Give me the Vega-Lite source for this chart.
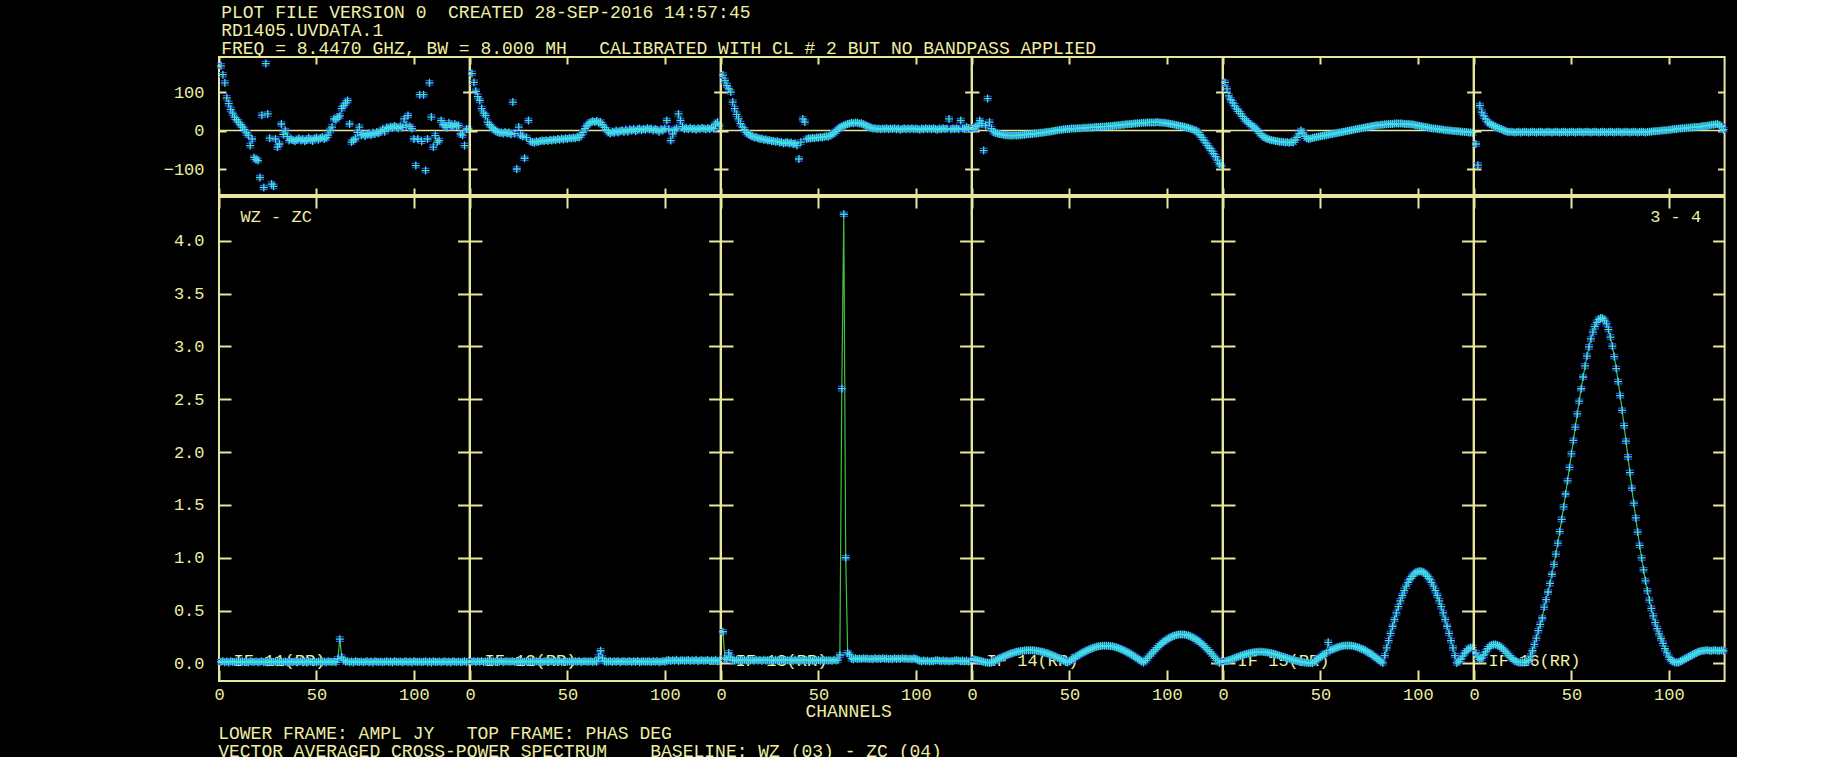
{
  "$schema": "https://vega.github.io/schema/vega-lite/v6.json",
  "background": "#000000",
  "padding": {"left": 163, "top": 3, "right": 5, "bottom": 0},
  "config": {
    "view": {"stroke": "#e6e69c", "strokeWidth": 2},
    "axis": {
      "domain": false, "ticks": false, "tickSize": 0,
      "gridColor": "#e6e69c", "gridOpacity": 1, "gridWidth": 2,
      "labelColor": "#eeeea4", "labelFont": "Liberation Mono", "labelFontSize": 17,
      "labelFlush": false, "labelOverlap": false
    },
    "title": {"font": "Liberation Mono", "fontSize": 18, "fontWeight": "normal", "color": "#eeeea4"}
  },
  "datasets": {
    "spec": [
      {"f":11,"t":"IF 11(RR)","u":"WZ - ZC","v":""},
      {"f":12,"t":"IF 12(RR)","u":"","v":""},
      {"f":13,"t":"IF 13(RR)","u":"","v":""},
      {"f":14,"t":"IF 14(RR)","u":"","v":""},
      {"f":15,"t":"IF 15(RR)","u":"","v":""},
      {"f":16,"t":"IF 16(RR)","u":"","v":"3 - 4"},
      {"f":11,"c":1,"a":0.015,"p":168},{"f":11,"c":2,"a":0.02,"p":145},{"f":11,"c":3,"a":0.012,"p":124},{"f":11,"c":4,"a":0.018,"p":85},{"f":11,"c":5,"a":0.01,"p":70},{"f":11,"c":6,"a":0.022,"p":55},{"f":11,"c":7,"a":0.016,"p":45},{"f":11,"c":8,"a":0.013,"p":35},{"f":11,"c":9,"a":0.019,"p":28},{"f":11,"c":10,"a":0.011,"p":22},
      {"f":11,"c":11,"a":0.015,"p":15},{"f":11,"c":12,"a":0.02,"p":9},{"f":11,"c":13,"a":0.012,"p":3},{"f":11,"c":14,"a":0.018,"p":-6},{"f":11,"c":15,"a":0.01,"p":-12},{"f":11,"c":16,"a":0.022,"p":-39},{"f":11,"c":17,"a":0.016,"p":-22},{"f":11,"c":18,"a":0.013,"p":-70},{"f":11,"c":19,"a":0.019,"p":-75},{"f":11,"c":20,"a":0.011,"p":-78},
      {"f":11,"c":21,"a":0.015,"p":-122},{"f":11,"c":22,"a":0.02,"p":40},{"f":11,"c":23,"a":0.012,"p":-148},{"f":11,"c":24,"a":0.018,"p":174},{"f":11,"c":25,"a":0.01,"p":43},{"f":11,"c":26,"a":0.022,"p":-20},{"f":11,"c":27,"a":0.016,"p":-139},{"f":11,"c":28,"a":0.013,"p":-145},{"f":11,"c":29,"a":0.019,"p":-22},{"f":11,"c":30,"a":0.011,"p":-43},
      {"f":11,"c":31,"a":0.015,"p":-35},{"f":11,"c":32,"a":0.02,"p":17},{"f":11,"c":33,"a":0.012,"p":-10},{"f":11,"c":34,"a":0.018,"p":0},{"f":11,"c":35,"a":0.01,"p":-15},{"f":11,"c":36,"a":0.022,"p":-26},{"f":11,"c":37,"a":0.016,"p":-22},{"f":11,"c":38,"a":0.013,"p":-25},{"f":11,"c":39,"a":0.019,"p":-28},{"f":11,"c":40,"a":0.011,"p":-24},
      {"f":11,"c":41,"a":0.015,"p":-20},{"f":11,"c":42,"a":0.02,"p":-26},{"f":11,"c":43,"a":0.012,"p":-22},{"f":11,"c":44,"a":0.018,"p":-28},{"f":11,"c":45,"a":0.01,"p":-25},{"f":11,"c":46,"a":0.022,"p":-19},{"f":11,"c":47,"a":0.016,"p":-23},{"f":11,"c":48,"a":0.013,"p":-27},{"f":11,"c":49,"a":0.019,"p":-21},{"f":11,"c":50,"a":0.011,"p":-18},
      {"f":11,"c":51,"a":0.015,"p":-24},{"f":11,"c":52,"a":0.02,"p":-20},{"f":11,"c":53,"a":0.012,"p":-17},{"f":11,"c":54,"a":0.018,"p":-22},{"f":11,"c":55,"a":0.01,"p":-19},{"f":11,"c":56,"a":0.022,"p":-12},{"f":11,"c":57,"a":0.016,"p":0},{"f":11,"c":58,"a":0.013,"p":9},{"f":11,"c":59,"a":0.019,"p":30},{"f":11,"c":60,"a":0.011,"p":28},
      {"f":11,"c":61,"a":0.045,"p":35},{"f":11,"c":62,"a":0.23,"p":38},{"f":11,"c":63,"a":0.06,"p":57},{"f":11,"c":64,"a":0.03,"p":65},{"f":11,"c":65,"a":0.015,"p":72},{"f":11,"c":66,"a":0.02,"p":78},{"f":11,"c":67,"a":0.012,"p":17},{"f":11,"c":68,"a":0.018,"p":-30},{"f":11,"c":69,"a":0.01,"p":-25},{"f":11,"c":70,"a":0.022,"p":-22},
      {"f":11,"c":71,"a":0.016,"p":-5},{"f":11,"c":72,"a":0.013,"p":9},{"f":11,"c":73,"a":0.019,"p":-12},{"f":11,"c":74,"a":0.011,"p":-9},{"f":11,"c":75,"a":0.015,"p":-14},{"f":11,"c":76,"a":0.02,"p":-10},{"f":11,"c":77,"a":0.012,"p":-8},{"f":11,"c":78,"a":0.018,"p":-12},{"f":11,"c":79,"a":0.01,"p":-6},{"f":11,"c":80,"a":0.022,"p":-9},
      {"f":11,"c":81,"a":0.016,"p":-4},{"f":11,"c":82,"a":0.013,"p":-7},{"f":11,"c":83,"a":0.019,"p":-2},{"f":11,"c":84,"a":0.011,"p":3},{"f":11,"c":85,"a":0.015,"p":-3},{"f":11,"c":86,"a":0.02,"p":8},{"f":11,"c":87,"a":0.012,"p":5},{"f":11,"c":88,"a":0.018,"p":10},{"f":11,"c":89,"a":0.01,"p":7},{"f":11,"c":90,"a":0.022,"p":12},
      {"f":11,"c":91,"a":0.016,"p":9},{"f":11,"c":92,"a":0.013,"p":6},{"f":11,"c":93,"a":0.019,"p":11},{"f":11,"c":94,"a":0.011,"p":8},{"f":11,"c":95,"a":0.015,"p":30},{"f":11,"c":96,"a":0.02,"p":14},{"f":11,"c":97,"a":0.012,"p":39},{"f":11,"c":98,"a":0.018,"p":10},{"f":11,"c":99,"a":0.01,"p":5},{"f":11,"c":100,"a":0.022,"p":-22},
      {"f":11,"c":101,"a":0.016,"p":-91},{"f":11,"c":102,"a":0.013,"p":-22},{"f":11,"c":103,"a":0.019,"p":93},{"f":11,"c":104,"a":0.011,"p":-28},{"f":11,"c":105,"a":0.015,"p":93},{"f":11,"c":106,"a":0.02,"p":-104},{"f":11,"c":107,"a":0.012,"p":-22},{"f":11,"c":108,"a":0.018,"p":124},{"f":11,"c":109,"a":0.01,"p":35},{"f":11,"c":110,"a":0.022,"p":-43},
      {"f":11,"c":111,"a":0.016,"p":-13},{"f":11,"c":112,"a":0.013,"p":-30},{"f":11,"c":113,"a":0.019,"p":-26},{"f":11,"c":114,"a":0.011,"p":26},{"f":11,"c":115,"a":0.015,"p":15},{"f":11,"c":116,"a":0.02,"p":13},{"f":11,"c":117,"a":0.012,"p":8},{"f":11,"c":118,"a":0.018,"p":20},{"f":11,"c":119,"a":0.01,"p":13},{"f":11,"c":120,"a":0.022,"p":10},
      {"f":11,"c":121,"a":0.016,"p":17},{"f":11,"c":122,"a":0.013,"p":12},{"f":11,"c":123,"a":0.019,"p":13},{"f":11,"c":124,"a":0.011,"p":-9},{"f":11,"c":125,"a":0.015,"p":-12},{"f":11,"c":126,"a":0.02,"p":-39},{"f":11,"c":127,"a":0.012,"p":4},{"f":11,"c":128,"a":0.018,"p":4},

      {"f":12,"c":1,"a":0.018,"p":148},{"f":12,"c":2,"a":0.022,"p":125},{"f":12,"c":3,"a":0.014,"p":102},{"f":12,"c":4,"a":0.02,"p":88},{"f":12,"c":5,"a":0.016,"p":78},{"f":12,"c":6,"a":0.024,"p":57},{"f":12,"c":7,"a":0.012,"p":45},{"f":12,"c":8,"a":0.019,"p":39},{"f":12,"c":9,"a":0.021,"p":22},{"f":12,"c":10,"a":0.015,"p":15},
      {"f":12,"c":11,"a":0.018,"p":9},{"f":12,"c":12,"a":0.022,"p":4},{"f":12,"c":13,"a":0.014,"p":0},{"f":12,"c":14,"a":0.02,"p":-3},{"f":12,"c":15,"a":0.016,"p":-6},{"f":12,"c":16,"a":0.024,"p":-5},{"f":12,"c":17,"a":0.012,"p":-8},{"f":12,"c":18,"a":0.019,"p":-4},{"f":12,"c":19,"a":0.021,"p":-7},{"f":12,"c":20,"a":0.015,"p":-5},
      {"f":12,"c":21,"a":0.018,"p":-10},{"f":12,"c":22,"a":0.022,"p":74},{"f":12,"c":23,"a":0.014,"p":-8},{"f":12,"c":24,"a":0.02,"p":-100},{"f":12,"c":25,"a":0.016,"p":9},{"f":12,"c":26,"a":0.024,"p":-12},{"f":12,"c":27,"a":0.012,"p":-15},{"f":12,"c":28,"a":0.019,"p":-72},{"f":12,"c":29,"a":0.021,"p":-18},{"f":12,"c":30,"a":0.015,"p":26},
      {"f":12,"c":31,"a":0.018,"p":-28},{"f":12,"c":32,"a":0.022,"p":-30},{"f":12,"c":33,"a":0.014,"p":-32},{"f":12,"c":34,"a":0.02,"p":-28},{"f":12,"c":35,"a":0.016,"p":-30},{"f":12,"c":36,"a":0.024,"p":-27},{"f":12,"c":37,"a":0.012,"p":-26},{"f":12,"c":38,"a":0.019,"p":-28},{"f":12,"c":39,"a":0.021,"p":-25},{"f":12,"c":40,"a":0.015,"p":-27},
      {"f":12,"c":41,"a":0.018,"p":-24},{"f":12,"c":42,"a":0.022,"p":-26},{"f":12,"c":43,"a":0.014,"p":-23},{"f":12,"c":44,"a":0.02,"p":-25},{"f":12,"c":45,"a":0.016,"p":-22},{"f":12,"c":46,"a":0.024,"p":-24},{"f":12,"c":47,"a":0.012,"p":-21},{"f":12,"c":48,"a":0.019,"p":-23},{"f":12,"c":49,"a":0.021,"p":-20},{"f":12,"c":50,"a":0.015,"p":-22},
      {"f":12,"c":51,"a":0.018,"p":-19},{"f":12,"c":52,"a":0.022,"p":-21},{"f":12,"c":53,"a":0.014,"p":-18},{"f":12,"c":54,"a":0.02,"p":-20},{"f":12,"c":55,"a":0.016,"p":-17},{"f":12,"c":56,"a":0.024,"p":-18},{"f":12,"c":57,"a":0.012,"p":-12},{"f":12,"c":58,"a":0.019,"p":-5},{"f":12,"c":59,"a":0.021,"p":5},{"f":12,"c":60,"a":0.015,"p":13},
      {"f":12,"c":61,"a":0.018,"p":18},{"f":12,"c":62,"a":0.022,"p":22},{"f":12,"c":63,"a":0.014,"p":24},{"f":12,"c":64,"a":0.02,"p":22},{"f":12,"c":65,"a":0.016,"p":25},{"f":12,"c":66,"a":0.06,"p":20},{"f":12,"c":67,"a":0.12,"p":22},{"f":12,"c":68,"a":0.05,"p":15},{"f":12,"c":69,"a":0.021,"p":8},{"f":12,"c":70,"a":0.015,"p":2},
      {"f":12,"c":71,"a":0.018,"p":-4},{"f":12,"c":72,"a":0.022,"p":-8},{"f":12,"c":73,"a":0.014,"p":-3},{"f":12,"c":74,"a":0.02,"p":-6},{"f":12,"c":75,"a":0.016,"p":0},{"f":12,"c":76,"a":0.024,"p":-5},{"f":12,"c":77,"a":0.012,"p":-2},{"f":12,"c":78,"a":0.019,"p":1},{"f":12,"c":79,"a":0.021,"p":-4},{"f":12,"c":80,"a":0.015,"p":2},
      {"f":12,"c":81,"a":0.018,"p":-3},{"f":12,"c":82,"a":0.022,"p":3},{"f":12,"c":83,"a":0.014,"p":0},{"f":12,"c":84,"a":0.02,"p":4},{"f":12,"c":85,"a":0.016,"p":-2},{"f":12,"c":86,"a":0.024,"p":3},{"f":12,"c":87,"a":0.012,"p":5},{"f":12,"c":88,"a":0.019,"p":1},{"f":12,"c":89,"a":0.021,"p":4},{"f":12,"c":90,"a":0.015,"p":2},
      {"f":12,"c":91,"a":0.018,"p":6},{"f":12,"c":92,"a":0.022,"p":3},{"f":12,"c":93,"a":0.014,"p":5},{"f":12,"c":94,"a":0.02,"p":0},{"f":12,"c":95,"a":0.016,"p":4},{"f":12,"c":96,"a":0.024,"p":2},{"f":12,"c":97,"a":0.012,"p":-3},{"f":12,"c":98,"a":0.019,"p":3},{"f":12,"c":99,"a":0.021,"p":1},{"f":12,"c":100,"a":0.015,"p":5},
      {"f":12,"c":101,"a":0.028,"p":26},{"f":12,"c":102,"a":0.032,"p":4},{"f":12,"c":103,"a":0.024,"p":-26},{"f":12,"c":104,"a":0.03,"p":-9},{"f":12,"c":105,"a":0.026,"p":2},{"f":12,"c":106,"a":0.034,"p":6},{"f":12,"c":107,"a":0.022,"p":43},{"f":12,"c":108,"a":0.029,"p":26},{"f":12,"c":109,"a":0.031,"p":10},{"f":12,"c":110,"a":0.025,"p":4},
      {"f":12,"c":111,"a":0.028,"p":6},{"f":12,"c":112,"a":0.032,"p":3},{"f":12,"c":113,"a":0.024,"p":7},{"f":12,"c":114,"a":0.03,"p":4},{"f":12,"c":115,"a":0.026,"p":5},{"f":12,"c":116,"a":0.034,"p":2},{"f":12,"c":117,"a":0.022,"p":6},{"f":12,"c":118,"a":0.029,"p":4},{"f":12,"c":119,"a":0.031,"p":7},{"f":12,"c":120,"a":0.025,"p":5},
      {"f":12,"c":121,"a":0.028,"p":3},{"f":12,"c":122,"a":0.032,"p":6},{"f":12,"c":123,"a":0.024,"p":4},{"f":12,"c":124,"a":0.03,"p":8},{"f":12,"c":125,"a":0.026,"p":5},{"f":12,"c":126,"a":0.034,"p":17},{"f":12,"c":127,"a":0.022,"p":22},{"f":12,"c":128,"a":0.029,"p":12},

      {"f":13,"c":1,"a":0.3,"p":144},{"f":13,"c":2,"a":0.05,"p":130},{"f":13,"c":3,"a":0.04,"p":117},{"f":13,"c":4,"a":0.1,"p":108},{"f":13,"c":5,"a":0.06,"p":100},{"f":13,"c":6,"a":0.03,"p":74},{"f":13,"c":7,"a":0.025,"p":57},{"f":13,"c":8,"a":0.035,"p":42},{"f":13,"c":9,"a":0.028,"p":30},{"f":13,"c":10,"a":0.032,"p":18},
      {"f":13,"c":11,"a":0.026,"p":9},{"f":13,"c":12,"a":0.034,"p":2},{"f":13,"c":13,"a":0.029,"p":-5},{"f":13,"c":14,"a":0.031,"p":-9},{"f":13,"c":15,"a":0.027,"p":-12},{"f":13,"c":16,"a":0.03,"p":-15},{"f":13,"c":17,"a":0.025,"p":-18},{"f":13,"c":18,"a":0.035,"p":-17},{"f":13,"c":19,"a":0.028,"p":-20},{"f":13,"c":20,"a":0.032,"p":-22},
      {"f":13,"c":21,"a":0.026,"p":-21},{"f":13,"c":22,"a":0.034,"p":-24},{"f":13,"c":23,"a":0.029,"p":-23},{"f":13,"c":24,"a":0.031,"p":-26},{"f":13,"c":25,"a":0.027,"p":-25},{"f":13,"c":26,"a":0.03,"p":-28},{"f":13,"c":27,"a":0.025,"p":-27},{"f":13,"c":28,"a":0.035,"p":-29},{"f":13,"c":29,"a":0.028,"p":-28},{"f":13,"c":30,"a":0.032,"p":-31},
      {"f":13,"c":31,"a":0.026,"p":-30},{"f":13,"c":32,"a":0.034,"p":-33},{"f":13,"c":33,"a":0.029,"p":-32},{"f":13,"c":34,"a":0.031,"p":-30},{"f":13,"c":35,"a":0.027,"p":-34},{"f":13,"c":36,"a":0.03,"p":-31},{"f":13,"c":37,"a":0.025,"p":-35},{"f":13,"c":38,"a":0.035,"p":-33},{"f":13,"c":39,"a":0.028,"p":-39},{"f":13,"c":40,"a":0.032,"p":-74},
      {"f":13,"c":41,"a":0.026,"p":-30},{"f":13,"c":42,"a":0.034,"p":30},{"f":13,"c":43,"a":0.029,"p":22},{"f":13,"c":44,"a":0.031,"p":-22},{"f":13,"c":45,"a":0.027,"p":-20},{"f":13,"c":46,"a":0.03,"p":-21},{"f":13,"c":47,"a":0.025,"p":-19},{"f":13,"c":48,"a":0.035,"p":-20},{"f":13,"c":49,"a":0.028,"p":-18},{"f":13,"c":50,"a":0.032,"p":-19},
      {"f":13,"c":51,"a":0.026,"p":-17},{"f":13,"c":52,"a":0.034,"p":-18},{"f":13,"c":53,"a":0.029,"p":-16},{"f":13,"c":54,"a":0.031,"p":-15},{"f":13,"c":55,"a":0.027,"p":-16},{"f":13,"c":56,"a":0.03,"p":-13},{"f":13,"c":57,"a":0.025,"p":-10},{"f":13,"c":58,"a":0.035,"p":-6},{"f":13,"c":59,"a":0.028,"p":-2},{"f":13,"c":60,"a":0.032,"p":3},
      {"f":13,"c":61,"a":0.08,"p":7},{"f":13,"c":62,"a":2.6,"p":10},{"f":13,"c":63,"a":4.25,"p":13},{"f":13,"c":64,"a":1.0,"p":15},{"f":13,"c":65,"a":0.1,"p":17},{"f":13,"c":66,"a":0.085,"p":18},{"f":13,"c":67,"a":0.045,"p":20},{"f":13,"c":68,"a":0.04,"p":19},{"f":13,"c":69,"a":0.05,"p":21},{"f":13,"c":70,"a":0.043,"p":20},
      {"f":13,"c":71,"a":0.047,"p":18},{"f":13,"c":72,"a":0.041,"p":19},{"f":13,"c":73,"a":0.049,"p":16},{"f":13,"c":74,"a":0.044,"p":14},{"f":13,"c":75,"a":0.046,"p":12},{"f":13,"c":76,"a":0.042,"p":9},{"f":13,"c":77,"a":0.045,"p":7},{"f":13,"c":78,"a":0.04,"p":5},{"f":13,"c":79,"a":0.05,"p":6},{"f":13,"c":80,"a":0.043,"p":4},
      {"f":13,"c":81,"a":0.047,"p":5},{"f":13,"c":82,"a":0.041,"p":3},{"f":13,"c":83,"a":0.049,"p":5},{"f":13,"c":84,"a":0.044,"p":4},{"f":13,"c":85,"a":0.046,"p":6},{"f":13,"c":86,"a":0.042,"p":3},{"f":13,"c":87,"a":0.045,"p":5},{"f":13,"c":88,"a":0.04,"p":4},{"f":13,"c":89,"a":0.05,"p":6},{"f":13,"c":90,"a":0.043,"p":3},
      {"f":13,"c":91,"a":0.047,"p":5},{"f":13,"c":92,"a":0.041,"p":2},{"f":13,"c":93,"a":0.049,"p":4},{"f":13,"c":94,"a":0.044,"p":6},{"f":13,"c":95,"a":0.046,"p":3},{"f":13,"c":96,"a":0.042,"p":5},{"f":13,"c":97,"a":0.045,"p":4},{"f":13,"c":98,"a":0.04,"p":6},{"f":13,"c":99,"a":0.05,"p":3},{"f":13,"c":100,"a":0.043,"p":5},
      {"f":13,"c":101,"a":0.03,"p":4},{"f":13,"c":102,"a":0.025,"p":2},{"f":13,"c":103,"a":0.02,"p":5},{"f":13,"c":104,"a":0.028,"p":3},{"f":13,"c":105,"a":0.022,"p":6},{"f":13,"c":106,"a":0.026,"p":4},{"f":13,"c":107,"a":0.018,"p":5},{"f":13,"c":108,"a":0.024,"p":3},{"f":13,"c":109,"a":0.021,"p":6},{"f":13,"c":110,"a":0.027,"p":4},
      {"f":13,"c":111,"a":0.03,"p":2},{"f":13,"c":112,"a":0.025,"p":5},{"f":13,"c":113,"a":0.02,"p":3},{"f":13,"c":114,"a":0.028,"p":6},{"f":13,"c":115,"a":0.022,"p":4},{"f":13,"c":116,"a":0.026,"p":5},{"f":13,"c":117,"a":0.018,"p":30},{"f":13,"c":118,"a":0.024,"p":3},{"f":13,"c":119,"a":0.021,"p":5},{"f":13,"c":120,"a":0.027,"p":4},
      {"f":13,"c":121,"a":0.03,"p":6},{"f":13,"c":122,"a":0.025,"p":3},{"f":13,"c":123,"a":0.02,"p":26},{"f":13,"c":124,"a":0.028,"p":5},{"f":13,"c":125,"a":0.022,"p":4},{"f":13,"c":126,"a":0.026,"p":9},{"f":13,"c":127,"a":0.018,"p":6},{"f":13,"c":128,"a":0.024,"p":4},

      {"f":14,"c":1,"a":0.04,"p":5},{"f":14,"c":2,"a":0.035,"p":10},{"f":14,"c":3,"a":0.03,"p":13},{"f":14,"c":4,"a":0.025,"p":26},{"f":14,"c":5,"a":0.02,"p":18},{"f":14,"c":6,"a":0.015,"p":-52},{"f":14,"c":7,"a":0.01,"p":13},{"f":14,"c":8,"a":0.008,"p":83},{"f":14,"c":9,"a":0.005,"p":22},{"f":14,"c":10,"a":0.01,"p":5},
      {"f":14,"c":11,"a":0.019,"p":-3},{"f":14,"c":12,"a":0.028,"p":-6},{"f":14,"c":13,"a":0.037,"p":-8},{"f":14,"c":14,"a":0.046,"p":-9},{"f":14,"c":15,"a":0.055,"p":-10},{"f":14,"c":16,"a":0.063,"p":-11},{"f":14,"c":17,"a":0.071,"p":-12},{"f":14,"c":18,"a":0.079,"p":-12},{"f":14,"c":19,"a":0.086,"p":-13},{"f":14,"c":20,"a":0.093,"p":-13},
      {"f":14,"c":21,"a":0.099,"p":-13},{"f":14,"c":22,"a":0.105,"p":-12},{"f":14,"c":23,"a":0.11,"p":-13},{"f":14,"c":24,"a":0.114,"p":-12},{"f":14,"c":25,"a":0.118,"p":-12},{"f":14,"c":26,"a":0.121,"p":-11},{"f":14,"c":27,"a":0.123,"p":-11},{"f":14,"c":28,"a":0.124,"p":-10},{"f":14,"c":29,"a":0.125,"p":-10},{"f":14,"c":30,"a":0.125,"p":-9},
      {"f":14,"c":31,"a":0.124,"p":-9},{"f":14,"c":32,"a":0.123,"p":-8},{"f":14,"c":33,"a":0.121,"p":-8},{"f":14,"c":34,"a":0.118,"p":-7},{"f":14,"c":35,"a":0.114,"p":-6},{"f":14,"c":36,"a":0.11,"p":-6},{"f":14,"c":37,"a":0.105,"p":-5},{"f":14,"c":38,"a":0.099,"p":-4},{"f":14,"c":39,"a":0.093,"p":-3},{"f":14,"c":40,"a":0.086,"p":-3},
      {"f":14,"c":41,"a":0.079,"p":-2},{"f":14,"c":42,"a":0.071,"p":-1},{"f":14,"c":43,"a":0.063,"p":0},{"f":14,"c":44,"a":0.055,"p":1},{"f":14,"c":45,"a":0.046,"p":2},{"f":14,"c":46,"a":0.037,"p":2},{"f":14,"c":47,"a":0.028,"p":3},{"f":14,"c":48,"a":0.019,"p":3},{"f":14,"c":49,"a":0.01,"p":4},{"f":14,"c":50,"a":0.021,"p":4},
      {"f":14,"c":51,"a":0.034,"p":5},{"f":14,"c":52,"a":0.046,"p":5},{"f":14,"c":53,"a":0.059,"p":5},{"f":14,"c":54,"a":0.071,"p":6},{"f":14,"c":55,"a":0.082,"p":6},{"f":14,"c":56,"a":0.093,"p":6},{"f":14,"c":57,"a":0.104,"p":7},{"f":14,"c":58,"a":0.114,"p":7},{"f":14,"c":59,"a":0.123,"p":7},{"f":14,"c":60,"a":0.132,"p":8},
      {"f":14,"c":61,"a":0.139,"p":8},{"f":14,"c":62,"a":0.146,"p":8},{"f":14,"c":63,"a":0.153,"p":9},{"f":14,"c":64,"a":0.158,"p":9},{"f":14,"c":65,"a":0.162,"p":9},{"f":14,"c":66,"a":0.165,"p":10},{"f":14,"c":67,"a":0.167,"p":10},{"f":14,"c":68,"a":0.168,"p":10},{"f":14,"c":69,"a":0.168,"p":11},{"f":14,"c":70,"a":0.167,"p":11},
      {"f":14,"c":71,"a":0.165,"p":12},{"f":14,"c":72,"a":0.162,"p":12},{"f":14,"c":73,"a":0.158,"p":13},{"f":14,"c":74,"a":0.153,"p":13},{"f":14,"c":75,"a":0.146,"p":14},{"f":14,"c":76,"a":0.139,"p":14},{"f":14,"c":77,"a":0.132,"p":15},{"f":14,"c":78,"a":0.123,"p":15},{"f":14,"c":79,"a":0.114,"p":16},{"f":14,"c":80,"a":0.104,"p":16},
      {"f":14,"c":81,"a":0.093,"p":17},{"f":14,"c":82,"a":0.082,"p":17},{"f":14,"c":83,"a":0.071,"p":18},{"f":14,"c":84,"a":0.059,"p":18},{"f":14,"c":85,"a":0.046,"p":19},{"f":14,"c":86,"a":0.034,"p":19},{"f":14,"c":87,"a":0.021,"p":20},{"f":14,"c":88,"a":0.008,"p":20},{"f":14,"c":89,"a":0.027,"p":20},{"f":14,"c":90,"a":0.048,"p":21},
      {"f":14,"c":91,"a":0.07,"p":21},{"f":14,"c":92,"a":0.09,"p":21},{"f":14,"c":93,"a":0.111,"p":21},{"f":14,"c":94,"a":0.13,"p":21},{"f":14,"c":95,"a":0.149,"p":22},{"f":14,"c":96,"a":0.167,"p":21},{"f":14,"c":97,"a":0.184,"p":21},{"f":14,"c":98,"a":0.2,"p":20},{"f":14,"c":99,"a":0.214,"p":20},{"f":14,"c":100,"a":0.227,"p":19},
      {"f":14,"c":101,"a":0.239,"p":18},{"f":14,"c":102,"a":0.249,"p":17},{"f":14,"c":103,"a":0.258,"p":16},{"f":14,"c":104,"a":0.265,"p":15},{"f":14,"c":105,"a":0.27,"p":14},{"f":14,"c":106,"a":0.274,"p":13},{"f":14,"c":107,"a":0.275,"p":12},{"f":14,"c":108,"a":0.275,"p":11},{"f":14,"c":109,"a":0.274,"p":10},{"f":14,"c":110,"a":0.27,"p":8},
      {"f":14,"c":111,"a":0.265,"p":7},{"f":14,"c":112,"a":0.258,"p":5},{"f":14,"c":113,"a":0.249,"p":3},{"f":14,"c":114,"a":0.239,"p":1},{"f":14,"c":115,"a":0.227,"p":0},{"f":14,"c":116,"a":0.214,"p":-5},{"f":14,"c":117,"a":0.2,"p":-11},{"f":14,"c":118,"a":0.184,"p":-18},{"f":14,"c":119,"a":0.167,"p":-25},{"f":14,"c":120,"a":0.149,"p":-32},
      {"f":14,"c":121,"a":0.13,"p":-39},{"f":14,"c":122,"a":0.111,"p":-46},{"f":14,"c":123,"a":0.09,"p":-53},{"f":14,"c":124,"a":0.07,"p":-60},{"f":14,"c":125,"a":0.048,"p":-68},{"f":14,"c":126,"a":0.027,"p":-77},{"f":14,"c":127,"a":0.005,"p":-87},{"f":14,"c":128,"a":0.02,"p":-92},

      {"f":15,"c":1,"a":0.02,"p":125},{"f":15,"c":2,"a":0.025,"p":108},{"f":15,"c":3,"a":0.03,"p":90},{"f":15,"c":4,"a":0.037,"p":80},{"f":15,"c":5,"a":0.044,"p":72},{"f":15,"c":6,"a":0.051,"p":64},{"f":15,"c":7,"a":0.058,"p":56},{"f":15,"c":8,"a":0.065,"p":50},{"f":15,"c":9,"a":0.072,"p":44},{"f":15,"c":10,"a":0.078,"p":37},
      {"f":15,"c":11,"a":0.084,"p":30},{"f":15,"c":12,"a":0.09,"p":25},{"f":15,"c":13,"a":0.095,"p":20},{"f":15,"c":14,"a":0.099,"p":16},{"f":15,"c":15,"a":0.103,"p":12},{"f":15,"c":16,"a":0.106,"p":9},{"f":15,"c":17,"a":0.108,"p":4},{"f":15,"c":18,"a":0.11,"p":-2},{"f":15,"c":19,"a":0.11,"p":-8},{"f":15,"c":20,"a":0.11,"p":-13},
      {"f":15,"c":21,"a":0.109,"p":-17},{"f":15,"c":22,"a":0.107,"p":-20},{"f":15,"c":23,"a":0.104,"p":-22},{"f":15,"c":24,"a":0.1,"p":-24},{"f":15,"c":25,"a":0.096,"p":-25},{"f":15,"c":26,"a":0.091,"p":-26},{"f":15,"c":27,"a":0.086,"p":-27},{"f":15,"c":28,"a":0.08,"p":-28},{"f":15,"c":29,"a":0.074,"p":-29},{"f":15,"c":30,"a":0.068,"p":-29},
      {"f":15,"c":31,"a":0.062,"p":-30},{"f":15,"c":32,"a":0.056,"p":-31},{"f":15,"c":33,"a":0.05,"p":-30},{"f":15,"c":34,"a":0.044,"p":-32},{"f":15,"c":35,"a":0.038,"p":-30},{"f":15,"c":36,"a":0.033,"p":-31},{"f":15,"c":37,"a":0.028,"p":-25},{"f":15,"c":38,"a":0.023,"p":-18},{"f":15,"c":39,"a":0.019,"p":-8},{"f":15,"c":40,"a":0.015,"p":0},
      {"f":15,"c":41,"a":0.012,"p":-6},{"f":15,"c":42,"a":0.009,"p":-15},{"f":15,"c":43,"a":0.007,"p":-20},{"f":15,"c":44,"a":0.005,"p":-22},{"f":15,"c":45,"a":0.004,"p":-21},{"f":15,"c":46,"a":0.004,"p":-19},{"f":15,"c":47,"a":0.019,"p":-18},{"f":15,"c":48,"a":0.034,"p":-17},{"f":15,"c":49,"a":0.048,"p":-16},{"f":15,"c":50,"a":0.061,"p":-15},
      {"f":15,"c":51,"a":0.075,"p":-14},{"f":15,"c":52,"a":0.088,"p":-13},{"f":15,"c":53,"a":0.1,"p":-12},{"f":15,"c":54,"a":0.2,"p":-11},{"f":15,"c":55,"a":0.122,"p":-10},{"f":15,"c":56,"a":0.131,"p":-9},{"f":15,"c":57,"a":0.14,"p":-8},{"f":15,"c":58,"a":0.148,"p":-7},{"f":15,"c":59,"a":0.154,"p":-6},{"f":15,"c":60,"a":0.16,"p":-5},
      {"f":15,"c":61,"a":0.164,"p":-4},{"f":15,"c":62,"a":0.168,"p":-3},{"f":15,"c":63,"a":0.169,"p":-2},{"f":15,"c":64,"a":0.17,"p":-1},{"f":15,"c":65,"a":0.169,"p":0},{"f":15,"c":66,"a":0.168,"p":1},{"f":15,"c":67,"a":0.164,"p":2},{"f":15,"c":68,"a":0.16,"p":3},{"f":15,"c":69,"a":0.154,"p":4},{"f":15,"c":70,"a":0.148,"p":5},
      {"f":15,"c":71,"a":0.14,"p":6},{"f":15,"c":72,"a":0.131,"p":7},{"f":15,"c":73,"a":0.122,"p":8},{"f":15,"c":74,"a":0.111,"p":9},{"f":15,"c":75,"a":0.1,"p":10},{"f":15,"c":76,"a":0.088,"p":11},{"f":15,"c":77,"a":0.075,"p":12},{"f":15,"c":78,"a":0.061,"p":13},{"f":15,"c":79,"a":0.048,"p":14},{"f":15,"c":80,"a":0.034,"p":14},
      {"f":15,"c":81,"a":0.019,"p":15},{"f":15,"c":82,"a":0.005,"p":15},{"f":15,"c":83,"a":0.075,"p":16},{"f":15,"c":84,"a":0.147,"p":16},{"f":15,"c":85,"a":0.216,"p":17},{"f":15,"c":86,"a":0.285,"p":17},{"f":15,"c":87,"a":0.352,"p":17},{"f":15,"c":88,"a":0.416,"p":18},{"f":15,"c":89,"a":0.478,"p":18},{"f":15,"c":90,"a":0.537,"p":18},
      {"f":15,"c":91,"a":0.592,"p":18},{"f":15,"c":92,"a":0.643,"p":18},{"f":15,"c":93,"a":0.689,"p":17},{"f":15,"c":94,"a":0.731,"p":17},{"f":15,"c":95,"a":0.768,"p":17},{"f":15,"c":96,"a":0.799,"p":16},{"f":15,"c":97,"a":0.825,"p":16},{"f":15,"c":98,"a":0.846,"p":15},{"f":15,"c":99,"a":0.861,"p":14},{"f":15,"c":100,"a":0.87,"p":13},
      {"f":15,"c":101,"a":0.873,"p":12},{"f":15,"c":102,"a":0.87,"p":11},{"f":15,"c":103,"a":0.861,"p":10},{"f":15,"c":104,"a":0.846,"p":9},{"f":15,"c":105,"a":0.825,"p":8},{"f":15,"c":106,"a":0.799,"p":7},{"f":15,"c":107,"a":0.768,"p":6},{"f":15,"c":108,"a":0.731,"p":5},{"f":15,"c":109,"a":0.689,"p":5},{"f":15,"c":110,"a":0.643,"p":4},
      {"f":15,"c":111,"a":0.592,"p":3},{"f":15,"c":112,"a":0.537,"p":3},{"f":15,"c":113,"a":0.478,"p":2},{"f":15,"c":114,"a":0.416,"p":1},{"f":15,"c":115,"a":0.352,"p":1},{"f":15,"c":116,"a":0.285,"p":0},{"f":15,"c":117,"a":0.216,"p":0},{"f":15,"c":118,"a":0.147,"p":-1},{"f":15,"c":119,"a":0.075,"p":-1},{"f":15,"c":120,"a":0.005,"p":-2},
      {"f":15,"c":121,"a":0.02,"p":-2},{"f":15,"c":122,"a":0.04,"p":-3},{"f":15,"c":123,"a":0.07,"p":-3},{"f":15,"c":124,"a":0.1,"p":-4},{"f":15,"c":125,"a":0.12,"p":-4},{"f":15,"c":126,"a":0.14,"p":-5},{"f":15,"c":127,"a":0.15,"p":-5},{"f":15,"c":128,"a":0.15,"p":-6},

      {"f":16,"c":1,"a":0.1,"p":-35},{"f":16,"c":2,"a":0.06,"p":-90},{"f":16,"c":3,"a":0.04,"p":65},{"f":16,"c":4,"a":0.05,"p":48},{"f":16,"c":5,"a":0.08,"p":38},{"f":16,"c":6,"a":0.11,"p":30},{"f":16,"c":7,"a":0.14,"p":22},{"f":16,"c":8,"a":0.16,"p":18},{"f":16,"c":9,"a":0.175,"p":15},{"f":16,"c":10,"a":0.18,"p":13},
      {"f":16,"c":11,"a":0.18,"p":10},{"f":16,"c":12,"a":0.175,"p":7},{"f":16,"c":13,"a":0.165,"p":5},{"f":16,"c":14,"a":0.15,"p":4},{"f":16,"c":15,"a":0.135,"p":1},{"f":16,"c":16,"a":0.115,"p":-1},{"f":16,"c":17,"a":0.095,"p":-3},{"f":16,"c":18,"a":0.075,"p":-4},{"f":16,"c":19,"a":0.055,"p":-3},{"f":16,"c":20,"a":0.04,"p":-4},
      {"f":16,"c":21,"a":0.025,"p":-5},{"f":16,"c":22,"a":0.015,"p":-4},{"f":16,"c":23,"a":0.01,"p":-3},{"f":16,"c":24,"a":0.008,"p":-5},{"f":16,"c":25,"a":0.01,"p":-4},{"f":16,"c":26,"a":0.01,"p":-3},{"f":16,"c":27,"a":0.015,"p":-4},{"f":16,"c":28,"a":0.03,"p":-5},{"f":16,"c":29,"a":0.07,"p":-4},{"f":16,"c":30,"a":0.12,"p":-3},
      {"f":16,"c":31,"a":0.18,"p":-4},{"f":16,"c":32,"a":0.24,"p":-5},{"f":16,"c":33,"a":0.31,"p":-4},{"f":16,"c":34,"a":0.37,"p":-3},{"f":16,"c":35,"a":0.43,"p":-4},{"f":16,"c":36,"a":0.533,"p":-5},{"f":16,"c":37,"a":0.603,"p":-4},{"f":16,"c":38,"a":0.676,"p":-3},{"f":16,"c":39,"a":0.757,"p":-4},{"f":16,"c":40,"a":0.844,"p":-5},
      {"f":16,"c":41,"a":0.937,"p":-4},{"f":16,"c":42,"a":1.035,"p":-3},{"f":16,"c":43,"a":1.138,"p":-4},{"f":16,"c":44,"a":1.248,"p":-5},{"f":16,"c":45,"a":1.363,"p":-4},{"f":16,"c":46,"a":1.481,"p":-3},{"f":16,"c":47,"a":1.603,"p":-4},{"f":16,"c":48,"a":1.728,"p":-5},{"f":16,"c":49,"a":1.855,"p":-4},{"f":16,"c":50,"a":1.983,"p":-3},
      {"f":16,"c":51,"a":2.11,"p":-4},{"f":16,"c":52,"a":2.236,"p":-5},{"f":16,"c":53,"a":2.361,"p":-4},{"f":16,"c":54,"a":2.481,"p":-3},{"f":16,"c":55,"a":2.599,"p":-4},{"f":16,"c":56,"a":2.71,"p":-5},{"f":16,"c":57,"a":2.815,"p":-4},{"f":16,"c":58,"a":2.908,"p":-3},{"f":16,"c":59,"a":2.995,"p":-4},{"f":16,"c":60,"a":3.07,"p":-5},
      {"f":16,"c":61,"a":3.135,"p":-4},{"f":16,"c":62,"a":3.187,"p":-3},{"f":16,"c":63,"a":3.227,"p":-4},{"f":16,"c":64,"a":3.255,"p":-5},{"f":16,"c":65,"a":3.268,"p":-4},{"f":16,"c":66,"a":3.265,"p":-3},{"f":16,"c":67,"a":3.249,"p":-4},{"f":16,"c":68,"a":3.213,"p":-5},{"f":16,"c":69,"a":3.159,"p":-4},{"f":16,"c":70,"a":3.088,"p":-3},
      {"f":16,"c":71,"a":3.002,"p":-4},{"f":16,"c":72,"a":2.902,"p":-5},{"f":16,"c":73,"a":2.79,"p":-4},{"f":16,"c":74,"a":2.666,"p":-3},{"f":16,"c":75,"a":2.534,"p":-4},{"f":16,"c":76,"a":2.395,"p":-5},{"f":16,"c":77,"a":2.25,"p":-4},{"f":16,"c":78,"a":2.103,"p":-3},{"f":16,"c":79,"a":1.954,"p":-4},{"f":16,"c":80,"a":1.806,"p":-5},
      {"f":16,"c":81,"a":1.659,"p":-4},{"f":16,"c":82,"a":1.516,"p":-3},{"f":16,"c":83,"a":1.377,"p":-4},{"f":16,"c":84,"a":1.243,"p":-5},{"f":16,"c":85,"a":1.117,"p":-4},{"f":16,"c":86,"a":0.998,"p":-3},{"f":16,"c":87,"a":0.886,"p":-4},{"f":16,"c":88,"a":0.782,"p":-5},{"f":16,"c":89,"a":0.687,"p":-4},{"f":16,"c":90,"a":0.6,"p":-3},
      {"f":16,"c":91,"a":0.521,"p":-3},{"f":16,"c":92,"a":0.45,"p":-2},{"f":16,"c":93,"a":0.386,"p":-2},{"f":16,"c":94,"a":0.33,"p":-1},{"f":16,"c":95,"a":0.28,"p":-1},{"f":16,"c":96,"a":0.236,"p":0},{"f":16,"c":97,"a":0.19,"p":0},{"f":16,"c":98,"a":0.14,"p":1},{"f":16,"c":99,"a":0.1,"p":1},{"f":16,"c":100,"a":0.06,"p":2},
      {"f":16,"c":101,"a":0.035,"p":2},{"f":16,"c":102,"a":0.02,"p":3},{"f":16,"c":103,"a":0.01,"p":3},{"f":16,"c":104,"a":0.008,"p":4},{"f":16,"c":105,"a":0.01,"p":5},{"f":16,"c":106,"a":0.02,"p":5},{"f":16,"c":107,"a":0.03,"p":6},{"f":16,"c":108,"a":0.04,"p":6},{"f":16,"c":109,"a":0.05,"p":7},{"f":16,"c":110,"a":0.06,"p":7},
      {"f":16,"c":111,"a":0.07,"p":8},{"f":16,"c":112,"a":0.08,"p":8},{"f":16,"c":113,"a":0.09,"p":9},{"f":16,"c":114,"a":0.1,"p":9},{"f":16,"c":115,"a":0.11,"p":9},{"f":16,"c":116,"a":0.115,"p":10},{"f":16,"c":117,"a":0.12,"p":11},{"f":16,"c":118,"a":0.12,"p":12},{"f":16,"c":119,"a":0.125,"p":12},{"f":16,"c":120,"a":0.125,"p":13},
      {"f":16,"c":121,"a":0.12,"p":14},{"f":16,"c":122,"a":0.12,"p":15},{"f":16,"c":123,"a":0.125,"p":15},{"f":16,"c":124,"a":0.125,"p":16},{"f":16,"c":125,"a":0.12,"p":17},{"f":16,"c":126,"a":0.12,"p":14},{"f":16,"c":127,"a":0.125,"p":10},{"f":16,"c":128,"a":0.12,"p":2}
    ]
  },
  "title": {
    "text": ["LOWER FRAME: AMPL JY\u00a0\u00a0 TOP FRAME: PHAS DEG", "VECTOR AVERAGED CROSS-POWER SPECTRUM\u00a0\u00a0\u00a0 BASELINE: WZ (03) - ZC (04)"],
    "orient": "bottom", "anchor": "start", "lineHeight": 17.5, "offset": 4, "dx": 55
  },
  "vconcat": [
    {
      "title": {
        "text": ["PLOT FILE VERSION 0\u00a0 CREATED 28-SEP-2016 14:57:45", "RD1405.UVDATA.1", "FREQ = 8.4470 GHZ, BW = 8.000 MH\u00a0\u00a0 CALIBRATED WITH CL # 2 BUT NO BANDPASS APPLIED"],
        "anchor": "start", "lineHeight": 18.2, "offset": -2, "dx": 58
      },
      "spacing": 0,
      "vconcat": [
        {
          "data": {"name": "spec"},
          "facet": {"column": {"field": "f", "type": "ordinal", "header": {"title": null, "labels": false}}},
          "spacing": 0,
          "bounds": "flush",
          "spec": {
            "width": 250.6,
            "height": 138,
            "resolve": {"axis": {"x": "independent", "y": "independent"}},
            "layer": [
              {
                "transform": [{"filter": "isValid(datum.t)"}],
                "mark": {"type": "rule", "color": "#e6e69c", "strokeWidth": 1.6},
                "encoding": {"y": {"datum": 0, "type": "quantitative", "axis": null, "scale": {"domain": [-167.5, 191], "nice": false, "zero": false}}}
              },
              {
                "transform": [{"filter": "isValid(datum.c)"}],
                "mark": {"type": "point", "shape": "M-1,-0.55L1,-0.55M-1,0.55L1,0.55", "filled": false, "stroke": "#3050ff", "strokeWidth": 1.2, "size": 64, "opacity": 1},
                "encoding": {
                  "x": {"field": "c", "type": "quantitative", "scale": {"domain": [0, 128.6], "nice": false, "zero": false},
                        "axis": {"orient": "bottom", "title": null, "labels": false, "values": [0, 50, 100], "grid": true, "gridDash": [7, 2000]}},
                  "y": {"field": "p", "type": "quantitative", "scale": {"domain": [-167.5, 191], "nice": false, "zero": false},
                        "axis": {"orient": "left", "title": null, "values": [-100, 0, 100], "format": "d", "labelPadding": 15, "grid": true, "gridDash": [7, 2000]}}
                }
              },
              {
                "transform": [{"filter": "isValid(datum.c)"}],
                "mark": {"type": "point", "shape": "M-1,0L1,0M0,-1L0,1", "filled": false, "stroke": "#3fe0dc", "strokeWidth": 1.3, "size": 64, "opacity": 1},
                "encoding": {
                  "x": {"field": "c", "type": "quantitative", "scale": {"domain": [0, 128.6], "nice": false, "zero": false},
                        "axis": {"orient": "top", "title": null, "labels": false, "values": [0, 50, 100], "grid": true, "gridDash": [7, 2000]}},
                  "y": {"field": "p", "type": "quantitative", "scale": {"domain": [-167.5, 191], "nice": false, "zero": false},
                        "axis": {"orient": "right", "title": null, "labels": false, "values": [-100, 0, 100], "grid": true, "gridDash": [7, 2000]}}
                }
              }
            ]
          }
        },
        {
          "data": {"name": "spec"},
          "title": {"text": "CHANNELS", "orient": "bottom", "anchor": "start", "dx": 632, "offset": 1},
          "facet": {"column": {"field": "f", "type": "ordinal", "header": {"title": null, "labels": false}}},
          "spacing": 0,
          "bounds": "flush",
          "spec": {
            "width": 250.6,
            "height": 484,
            "resolve": {"axis": {"x": "independent", "y": "independent"}},
            "layer": [
              {
                "transform": [{"filter": "isValid(datum.t)"}],
                "mark": {"type": "text", "align": "left", "baseline": "middle", "font": "Liberation Mono", "fontSize": 17, "color": "#eeeea4"},
                "encoding": {
                  "x": {"datum": 7.5, "type": "quantitative", "axis": null, "scale": {"domain": [0, 128.6], "nice": false, "zero": false}},
                  "y": {"datum": 0.02, "type": "quantitative", "axis": null, "scale": {"domain": [-0.166, 4.413], "nice": false, "zero": false}},
                  "text": {"field": "t"}
                }
              },
              {
                "transform": [{"filter": "isValid(datum.t)"}],
                "mark": {"type": "text", "align": "left", "baseline": "middle", "font": "Liberation Mono", "fontSize": 17, "color": "#eeeea4"},
                "encoding": {
                  "x": {"datum": 11, "type": "quantitative", "axis": null},
                  "y": {"datum": 4.224, "type": "quantitative", "axis": null},
                  "text": {"field": "u"}
                }
              },
              {
                "transform": [{"filter": "isValid(datum.t)"}],
                "mark": {"type": "text", "align": "right", "baseline": "middle", "font": "Liberation Mono", "fontSize": 17, "color": "#eeeea4"},
                "encoding": {
                  "x": {"datum": 116.6, "type": "quantitative", "axis": null},
                  "y": {"datum": 4.224, "type": "quantitative", "axis": null},
                  "text": {"field": "v"}
                }
              },
              {
                "transform": [{"filter": "isValid(datum.c)"}],
                "mark": {"type": "line", "color": "#42c242", "strokeWidth": 1.2},
                "encoding": {
                  "x": {"field": "c", "type": "quantitative", "axis": null},
                  "y": {"field": "a", "type": "quantitative", "axis": null}
                }
              },
              {
                "transform": [{"filter": "isValid(datum.c)"}],
                "mark": {"type": "point", "shape": "M-1,-0.55L1,-0.55M-1,0.55L1,0.55", "filled": false, "stroke": "#3050ff", "strokeWidth": 1.2, "size": 64, "opacity": 1},
                "encoding": {
                  "x": {"field": "c", "type": "quantitative", "scale": {"domain": [0, 128.6], "nice": false, "zero": false},
                        "axis": {"orient": "bottom", "title": null, "values": [0, 50, 100], "labelPadding": 5, "grid": true, "gridDash": [11, 2000]}},
                  "y": {"field": "a", "type": "quantitative", "scale": {"domain": [-0.166, 4.413], "nice": false, "zero": false},
                        "axis": {"orient": "left", "title": null, "values": [0, 0.5, 1, 1.5, 2, 2.5, 3, 3.5, 4], "format": ".1f", "labelPadding": 15, "grid": true, "gridDash": [12, 2000]}}
                }
              },
              {
                "transform": [{"filter": "isValid(datum.c)"}],
                "mark": {"type": "point", "shape": "M-1,0L1,0M0,-1L0,1", "filled": false, "stroke": "#3fe0dc", "strokeWidth": 1.3, "size": 64, "opacity": 1},
                "encoding": {
                  "x": {"field": "c", "type": "quantitative",
                        "axis": {"orient": "top", "title": null, "labels": false, "values": [0, 50, 100], "grid": true, "gridDash": [11, 2000]}},
                  "y": {"field": "a", "type": "quantitative",
                        "axis": {"orient": "right", "title": null, "labels": false, "values": [0, 0.5, 1, 1.5, 2, 2.5, 3, 3.5, 4], "grid": true, "gridDash": [12, 2000]}}
                }
              }
            ]
          }
        }
      ]
    }
  ]
}
